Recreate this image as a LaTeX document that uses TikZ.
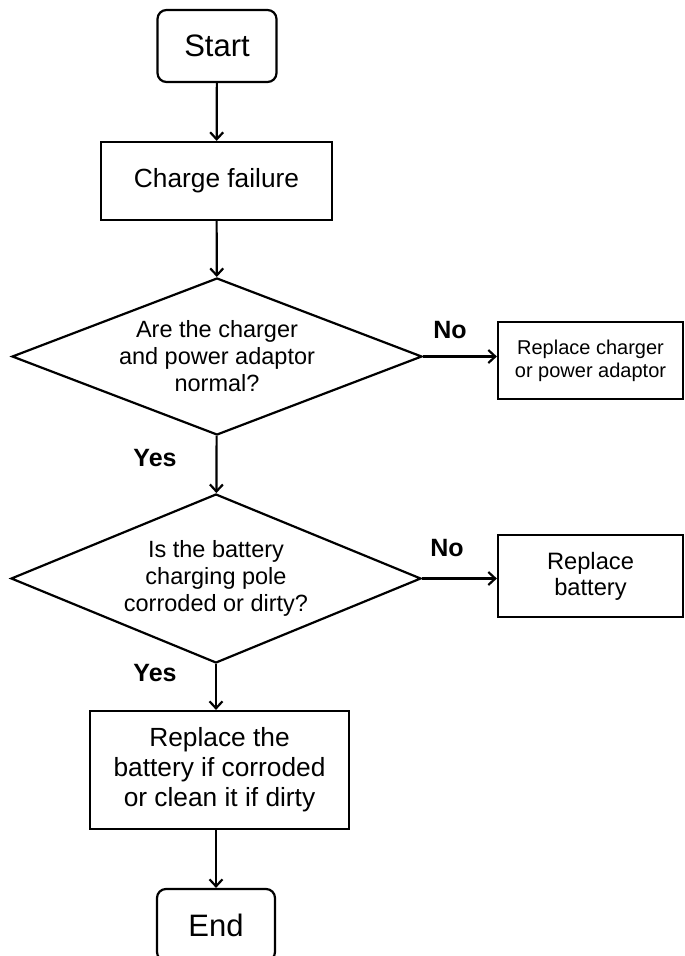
\documentclass[tikz,border=0pt]{standalone}
\usepackage{fontspec}
\setmainfont{Liberation Sans}
\usetikzlibrary{arrows.meta,shapes.geometric}

\begin{document}
\begin{tikzpicture}[x=1pt,y=-1pt,>={Straight Barb[length=7pt,width=13pt]},
  line width=2.2pt,
  term/.style={draw,rounded corners=9pt,minimum width=119pt,minimum height=72pt,
    inner sep=0pt,font=\fontsize{31}{36}\selectfont},
  proc/.style={draw,align=center,inner sep=0pt},
  test/.style={draw,diamond,aspect=2.6,inner sep=0pt,align=center,
    minimum width=410pt,font=\fontsize{23.5}{27}\selectfont},
  answer/.style={font=\fontsize{25}{30}\selectfont\bfseries}]
  \useasboundingbox (0,0) rectangle (685,956);
  \clip (0,0) rectangle (685,956);
  % Main column
  \node[term] (start) at (217,46) {Start};
  \node[proc,minimum width=231pt,minimum height=78pt,
    font=\fontsize{26.3}{30}\selectfont] (charge) at (216.5,181) {Charge failure};
  \node[test,minimum height=157pt] (d1) at (217,356.5)
    {Are the charger\\and power adaptor\\normal?};
  \node[test,minimum height=169pt] (d2) at (216,578.5)
    {Is the battery\\charging pole\\corroded or dirty?};
  \node[proc,minimum width=259pt,minimum height=118pt,
    font=\fontsize{26.3}{30}\selectfont] (fix) at (219.5,770)
    {Replace the\\battery if corroded\\or clean it if dirty};
  \node[term,minimum width=118pt] (end) at (216,925) {End};
  % Side boxes
  \node[proc,minimum width=185pt,minimum height=77pt,
    font=\fontsize{20}{23}\selectfont] (charger) at (590.5,360.5)
    {Replace charger\\or power adaptor};
  \node[proc,minimum width=185pt,minimum height=82pt,
    font=\fontsize{23.7}{26}\selectfont] (battery) at (590.5,576)
    {Replace\\battery};
  % Answers
  \node[answer] (no1) at (450,330) {No};
  \node[answer] (no2) at (447,548) {No};
  \node[answer] (yes1) at (155,458) {Yes};
  \node[answer] (yes2) at (155,673) {Yes};
  % Arrows
  \draw[->] (start) -- (charge);
  \draw[->] (charge) -- (d1);
  \draw[->] (d1.east) -- (d1.east -| charger.west);
  \draw[->] (d1) -- (d2);
  \draw[->] (d2.east) -- (d2.east -| battery.west);
  \draw[->] (d2.south) -- (d2.south |- fix.north);
  \draw[->] (end.north |- fix.south) -- (end);
\end{tikzpicture}
\end{document}
